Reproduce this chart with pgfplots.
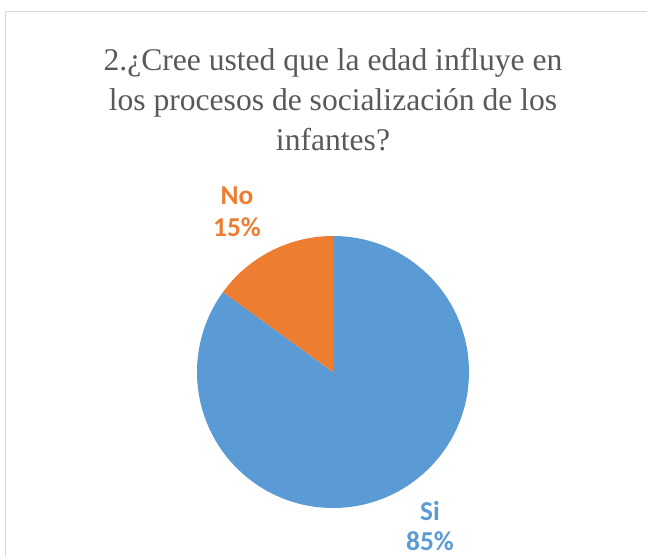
\documentclass[border=0pt]{standalone}
\usepackage{pgfplots}
\usepackage{pgfplotstable}
\pgfplotsset{compat=1.18}
\usepackage{fontspec}
\setmainfont{Liberation Serif}
\newfontfamily\labelfont{Carlito}
\definecolor{siblue}{HTML}{5B9BD5}
\definecolor{noorange}{HTML}{ED7D31}
\definecolor{titlegray}{HTML}{595959}
\definecolor{framegray}{HTML}{D9D9D9}
\pgfplotstableread{
label value
Si 85
No 15
}\piedata
\pgfplotstablegetelem{0}{value}\of\piedata \let\vSi\pgfplotsretval
\pgfplotstablegetelem{1}{value}\of\piedata \let\vNo\pgfplotsretval
\pgfmathsetmacro\aSi{90-3.6*\vSi}
\pgfmathsetmacro\aNo{\aSi-3.6*\vNo}
\begin{document}
\begin{tikzpicture}
\begin{axis}[scale only axis, width=485.25pt, height=417.75pt,
  xmin=0, xmax=647, ymin=0, ymax=557, axis lines=none, clip=false]
% frame
\draw[framegray, line width=0.9pt] (axis cs:5.5,0) -- (axis cs:5.5,545.5) -- (axis cs:647,545.5);
% pie (center 333,185; radius 136 units = 102pt)
\fill[siblue] (axis cs:333,185) -- (axis cs:333,321) arc[start angle=90, end angle=\aSi, radius=102pt] -- cycle;
\fill[noorange] (axis cs:333,185) -- +(\aSi:102pt) arc[start angle=\aSi, end angle=\aNo, radius=102pt] -- cycle;
% title
\node[text=titlegray, align=center, font=\fontsize{23.7}{30}\selectfont] at (axis cs:333,457)
  {2.¿Cree usted que la edad influye en\\los procesos de socialización de los\\infantes?};
% labels
\node[text=noorange, align=center, inner sep=0pt, font=\labelfont\bfseries\fontsize{20.5}{24}\selectfont] at (axis cs:237,345) {No\\\vNo\%};
\node[text=siblue, align=center, inner sep=0pt, font=\labelfont\bfseries\fontsize{20.5}{22}\selectfont] at (axis cs:430,31) {Si\\\vSi\%};
\end{axis}
\pgfresetboundingbox
\path (current axis.south west) rectangle (current axis.north east);
\end{tikzpicture}
\end{document}
